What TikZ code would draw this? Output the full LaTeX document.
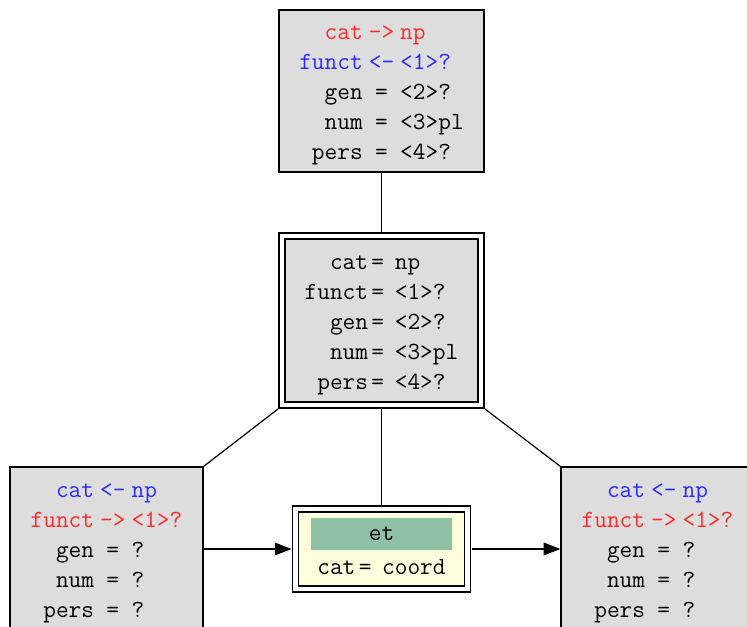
\documentclass[tikz,border=0pt]{standalone}
\usepackage{xcolor}
\usetikzlibrary{arrows.meta}
\definecolor{avmgray}{HTML}{DDDDDD}
\definecolor{coordyellow}{HTML}{FFFFDD}
\definecolor{headgreen}{HTML}{8FC1A6}
\definecolor{putred}{HTML}{FF2A2A}
\definecolor{getblue}{HTML}{2A2AFF}
\newcommand{\avm}[1]{\raisebox{-2pt}[\height][\depth]{\begin{tabular}{@{}r@{\hspace{4.5pt}}c@{\hspace{4.5pt}}l@{}}#1\end{tabular}}}
\newcommand{\eqavm}[1]{\raisebox{-2pt}[\height][\depth]{\begin{tabular}{@{}r@{\hspace{2.5pt}}c@{\hspace{8pt}}l@{}}#1\end{tabular}}}
\newcommand{\putrow}[3]{\textcolor{putred}{#1}&\textcolor{putred}{#2}&\textcolor{putred}{#3}}
\newcommand{\getrow}[3]{\textcolor{getblue}{#1}&\textcolor{getblue}{#2}&\textcolor{getblue}{#3}}
\tikzset{%
    avm/.style={%
        draw, line width=0.9pt, fill=avmgray, inner sep=0pt,
        font=\fontsize{18.5}{22.5}\selectfont\ttfamily
    },
    twice/.style={%
        double, double distance=3.6pt, outer sep=3pt
    },
    avmtext/.style={%
        inner sep=0pt, font=\fontsize{18.5}{22.5}\selectfont\ttfamily
    },
    link/.style={line width=0.9pt},
    feed/.style={line width=0.9pt, -{Triangle[length=12.5pt,width=9.5pt]}}
}

\begin{document}
\begin{tikzpicture}[x=0.75pt,y=-0.75pt]
    \useasboundingbox (0,0) rectangle (747,626);
    \clip (0,0) rectangle (747,626);
    \node[avm, minimum width=153.75pt, minimum height=121.5pt] (top) at (381.5,91)
    {\avm{\putrow{cat}{->}{np}\\ \getrow{funct}{<-}{<1>?}\\ gen&=&<2>?\\ num&=&<3>pl\\ pers&=&<4>?}};
    \node[avm, twice, minimum width=149.25pt, minimum height=126.75pt] (mid) at (381.5,320.5)
    {\eqavm{cat&=&np\\ funct&=&<1>?\\ gen&=&<2>?\\ num&=&<3>pl\\ pers&=&<4>?}};
    \node[avm, minimum width=144.75pt, minimum height=123pt] (left) at (106.5,549)
    {\avm{\getrow{cat}{<-}{np}\\ \putrow{funct}{->}{<1>?}\\ gen&=&?\\ num&=&?\\ pers&=&?}};
    \node[avm, minimum width=144.75pt, minimum height=123pt] (right) at (657.5,549)
    {\avm{\getrow{cat}{<-}{np}\\ \putrow{funct}{->}{<1>?}\\ gen&=&?\\ num&=&?\\ pers&=&?}};
    \node[avm, twice, fill=coordyellow, minimum width=129pt, minimum height=60pt] (coord) at (381.5,549) {};
    \node[avmtext, fill=headgreen, minimum width=105.75pt, minimum height=23.6pt] (head) at (381.5,534.2) {et};
    \node[avmtext] (coordcat) at (381.5,566) {\eqavm{cat&=&coord}};
    % connectors
    \draw[link] (top.south) -- (mid.north);
    \draw[link] (mid.south) -- (coord.north);
    \draw[link] (mid.south west) -- (left.north east);
    \draw[link] (mid.south east) -- (right.north west);
    \draw[feed] (left.east) -- (coord.west);
    \draw[feed] (coord.east) -- (right.west);
\end{tikzpicture}
\end{document}
